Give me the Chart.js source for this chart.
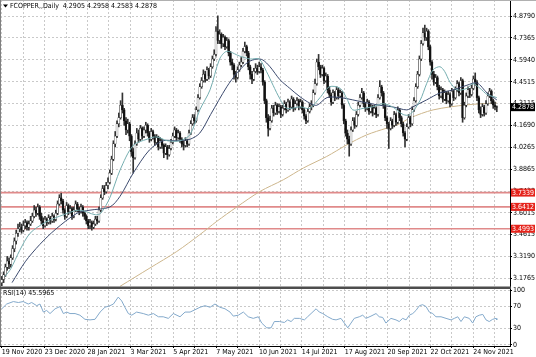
<!DOCTYPE html>
<html><head><meta charset="utf-8">
<script src="https://cdn.jsdelivr.net/npm/chart.js@4.4.1/dist/chart.umd.min.js"></script>
<style>html,body{margin:0;padding:0;background:#fff;overflow:hidden}canvas{display:block}</style>
</head><body>
<canvas id="c" width="536" height="357"></canvas>
<script>
const FONT = "'Liberation Sans Narrow','DejaVu Sans Condensed','Arial Narrow',sans-serif";
const symbolTitle = 'FCOPPER,,Daily';
const lastOHLC = [4.2905, 4.2958, 4.2583, 4.2878];
const rsiTitle = 'RSI(14) 45.5965';
const dateLabels = ['19 Nov 2020','23 Dec 2020','28 Jan 2021','3 Mar 2021','5 Apr 2021','7 May 2021','10 Jun 2021','14 Jul 2021','17 Aug 2021','20 Sep 2021','22 Oct 2021','24 Nov 2021'];
const priceTicks = [4.8790,4.7365,4.5940,4.4515,4.3115,4.1690,4.0265,3.8865,3.7439,3.6015,3.4615,3.3190,3.1765];
const rsiTicks = [0,30,70,100];
const levels = [3.7339,3.6412,3.4993];

const opens = [3.15,3.17,3.20,3.25,3.29,3.27,3.31,3.37,3.42,3.47,
3.50,3.51,3.49,3.52,3.54,3.51,3.53,3.55,3.58,3.62,
3.60,3.64,3.58,3.55,3.52,3.56,3.54,3.57,3.55,3.58,
3.56,3.60,3.66,3.70,3.68,3.62,3.58,3.65,3.61,3.63,
3.58,3.62,3.66,3.63,3.61,3.64,3.60,3.58,3.55,3.52,
3.54,3.51,3.53,3.56,3.55,3.62,3.70,3.76,3.74,3.78,
3.80,3.86,3.95,4.05,4.10,4.18,4.22,4.30,4.27,4.20,
4.14,4.18,4.10,4.00,3.96,4.05,4.12,4.08,4.15,4.10,
4.14,4.17,4.12,4.08,4.13,4.10,4.06,4.09,4.03,4.07,
4.04,3.99,4.03,3.98,4.02,4.06,4.10,4.14,4.09,4.12,
4.08,4.05,4.04,4.07,4.05,4.12,4.18,4.22,4.20,4.27,
4.35,4.42,4.46,4.50,4.47,4.53,4.49,4.55,4.60,4.63,
4.78,4.72,4.76,4.70,4.74,4.68,4.72,4.64,4.58,4.56,
4.50,4.48,4.53,4.56,4.58,4.65,4.68,4.64,4.55,4.50,
4.47,4.52,4.54,4.52,4.55,4.53,4.45,4.33,4.22,4.15,
4.20,4.28,4.25,4.30,4.26,4.29,4.24,4.28,4.31,4.27,
4.32,4.29,4.34,4.28,4.31,4.33,4.29,4.32,4.27,4.23,
4.20,4.26,4.29,4.30,4.38,4.44,4.58,4.55,4.50,4.54,
4.46,4.49,4.40,4.37,4.32,4.38,4.35,4.40,4.36,4.38,
4.30,4.20,4.12,4.08,4.05,4.14,4.20,4.17,4.24,4.30,
4.35,4.38,4.31,4.28,4.32,4.26,4.29,4.25,4.28,4.24,
4.35,4.42,4.38,4.30,4.22,4.18,4.15,4.20,4.17,4.24,
4.19,4.27,4.22,4.18,4.12,4.08,4.16,4.22,4.18,4.27,
4.33,4.42,4.50,4.60,4.70,4.77,4.74,4.78,4.68,4.58,
4.50,4.45,4.48,4.42,4.36,4.40,4.34,4.38,4.33,4.37,
4.31,4.39,4.35,4.40,4.44,4.38,4.46,4.22,4.30,4.36,
4.40,4.37,4.41,4.47,4.45,4.35,4.27,4.24,4.29,4.25,
4.31,4.36,4.39,4.33,4.30,4.2905];
const highs = [3.19,3.22,3.27,3.32,3.31,3.33,3.39,3.44,3.49,3.53,
3.54,3.53,3.55,3.56,3.55,3.55,3.58,3.60,3.65,3.64,
3.66,3.65,3.60,3.57,3.58,3.57,3.59,3.58,3.60,3.59,
3.62,3.68,3.72,3.73,3.69,3.63,3.67,3.66,3.65,3.64,
3.64,3.68,3.67,3.64,3.66,3.65,3.61,3.59,3.56,3.56,
3.55,3.55,3.58,3.58,3.64,3.72,3.78,3.78,3.80,3.83,
3.88,3.97,4.07,4.13,4.20,4.25,4.33,4.38,4.28,4.22,
4.21,4.19,4.11,4.02,4.07,4.15,4.14,4.17,4.16,4.16,
4.19,4.18,4.13,4.15,4.14,4.11,4.11,4.10,4.09,4.08,
4.05,4.05,4.04,4.04,4.08,4.12,4.16,4.15,4.14,4.13,
4.09,4.07,4.09,4.08,4.14,4.20,4.24,4.24,4.29,4.37,
4.44,4.48,4.53,4.52,4.55,4.54,4.57,4.62,4.66,4.81,
4.88,4.79,4.77,4.76,4.75,4.74,4.73,4.65,4.60,4.57,
4.52,4.55,4.58,4.61,4.67,4.71,4.69,4.65,4.56,4.52,
4.54,4.57,4.56,4.58,4.57,4.54,4.46,4.34,4.24,4.23,
4.30,4.30,4.32,4.31,4.31,4.30,4.30,4.33,4.32,4.34,
4.33,4.36,4.35,4.33,4.35,4.34,4.34,4.33,4.28,4.24,
4.28,4.31,4.33,4.40,4.47,4.60,4.63,4.56,4.56,4.55,
4.51,4.50,4.42,4.38,4.40,4.39,4.42,4.41,4.40,4.39,
4.31,4.21,4.14,4.10,4.16,4.22,4.22,4.26,4.32,4.37,
4.41,4.39,4.32,4.34,4.33,4.31,4.30,4.30,4.29,4.37,
4.46,4.43,4.39,4.31,4.23,4.19,4.22,4.21,4.26,4.25,
4.29,4.28,4.23,4.19,4.13,4.18,4.24,4.23,4.29,4.35,
4.44,4.52,4.62,4.72,4.80,4.82,4.80,4.79,4.69,4.59,
4.52,4.50,4.49,4.43,4.42,4.41,4.40,4.39,4.39,4.38,
4.41,4.40,4.42,4.46,4.45,4.48,4.47,4.32,4.38,4.42,
4.41,4.43,4.49,4.51,4.46,4.36,4.29,4.31,4.30,4.33,
4.38,4.41,4.40,4.34,4.32,4.2958];
const lows = [3.13,3.15,3.19,3.23,3.24,3.25,3.30,3.35,3.40,3.45,
3.48,3.47,3.48,3.50,3.49,3.49,3.52,3.54,3.57,3.58,
3.59,3.56,3.53,3.50,3.51,3.52,3.53,3.53,3.54,3.54,
3.55,3.59,3.65,3.66,3.60,3.56,3.57,3.59,3.60,3.56,
3.57,3.61,3.61,3.59,3.60,3.58,3.56,3.53,3.50,3.50,
3.49,3.50,3.52,3.53,3.54,3.61,3.69,3.72,3.73,3.76,
3.79,3.85,3.94,4.03,4.09,4.16,4.21,4.25,4.17,4.11,
4.12,4.07,3.97,3.86,3.95,4.04,4.06,4.07,4.08,4.09,
4.12,4.10,4.06,4.07,4.08,4.04,4.05,4.01,4.02,4.02,
3.96,3.98,3.95,3.97,4.01,4.05,4.09,4.07,4.08,4.06,
4.03,4.01,4.03,4.03,4.04,4.11,4.17,4.18,4.19,4.26,
4.34,4.41,4.45,4.45,4.46,4.47,4.48,4.54,4.59,4.62,
4.70,4.70,4.67,4.68,4.66,4.67,4.62,4.56,4.53,4.47,
4.45,4.47,4.52,4.55,4.57,4.64,4.62,4.53,4.47,4.44,
4.46,4.51,4.50,4.51,4.51,4.43,4.31,4.19,4.10,4.14,
4.19,4.23,4.24,4.24,4.25,4.22,4.23,4.27,4.25,4.26,
4.27,4.28,4.26,4.27,4.30,4.27,4.28,4.25,4.21,4.18,
4.19,4.25,4.27,4.29,4.37,4.43,4.53,4.48,4.49,4.44,
4.45,4.38,4.35,4.30,4.31,4.33,4.34,4.34,4.35,4.28,
4.18,4.10,4.05,3.97,4.04,4.13,4.15,4.16,4.23,4.29,
4.34,4.29,4.26,4.27,4.24,4.25,4.23,4.24,4.22,4.23,
4.34,4.36,4.28,4.20,4.15,4.02,4.14,4.15,4.16,4.17,
4.18,4.20,4.16,4.10,4.03,4.07,4.15,4.16,4.17,4.26,
4.32,4.41,4.49,4.59,4.69,4.72,4.72,4.66,4.56,4.47,
4.43,4.44,4.40,4.34,4.35,4.32,4.33,4.31,4.32,4.29,
4.30,4.33,4.34,4.39,4.36,4.37,4.19,4.21,4.29,4.35,
4.35,4.36,4.40,4.43,4.33,4.25,4.22,4.23,4.23,4.24,
4.30,4.35,4.31,4.28,4.27,4.2583];
const closes = [3.17,3.20,3.25,3.29,3.27,3.31,3.37,3.42,3.47,3.50,
3.51,3.49,3.52,3.54,3.51,3.53,3.55,3.58,3.62,3.60,
3.64,3.58,3.55,3.52,3.56,3.54,3.57,3.55,3.58,3.56,
3.60,3.66,3.70,3.68,3.62,3.58,3.65,3.61,3.63,3.58,
3.62,3.66,3.63,3.61,3.64,3.60,3.58,3.55,3.52,3.54,
3.51,3.53,3.56,3.55,3.62,3.70,3.76,3.74,3.78,3.80,
3.86,3.95,4.05,4.10,4.18,4.22,4.30,4.27,4.20,4.14,
4.18,4.10,4.00,3.96,4.05,4.12,4.08,4.15,4.10,4.14,
4.17,4.12,4.08,4.13,4.10,4.06,4.09,4.03,4.07,4.04,
3.99,4.03,3.98,4.02,4.06,4.10,4.14,4.09,4.12,4.08,
4.05,4.04,4.07,4.05,4.12,4.18,4.22,4.20,4.27,4.35,
4.42,4.46,4.50,4.47,4.53,4.49,4.55,4.60,4.63,4.78,
4.72,4.76,4.70,4.74,4.68,4.72,4.64,4.58,4.56,4.50,
4.48,4.53,4.56,4.58,4.65,4.68,4.64,4.55,4.50,4.47,
4.52,4.54,4.52,4.55,4.53,4.45,4.33,4.22,4.15,4.20,
4.28,4.25,4.30,4.26,4.29,4.24,4.28,4.31,4.27,4.32,
4.29,4.34,4.28,4.31,4.33,4.29,4.32,4.27,4.23,4.20,
4.26,4.29,4.30,4.38,4.44,4.58,4.55,4.50,4.54,4.46,
4.49,4.40,4.37,4.32,4.38,4.35,4.40,4.36,4.38,4.30,
4.20,4.12,4.08,4.05,4.14,4.20,4.17,4.24,4.30,4.35,
4.38,4.31,4.28,4.32,4.26,4.29,4.25,4.28,4.24,4.35,
4.42,4.38,4.30,4.22,4.18,4.15,4.20,4.17,4.24,4.19,
4.27,4.22,4.18,4.12,4.08,4.16,4.22,4.18,4.27,4.33,
4.42,4.50,4.60,4.70,4.77,4.74,4.78,4.68,4.58,4.50,
4.45,4.48,4.42,4.36,4.40,4.34,4.38,4.33,4.37,4.31,
4.39,4.35,4.40,4.44,4.38,4.46,4.22,4.30,4.36,4.40,
4.37,4.41,4.47,4.45,4.35,4.27,4.24,4.29,4.25,4.31,
4.36,4.39,4.33,4.30,4.29,4.2878];

const maFastX = [1.8,5,10,15.7,24,32,43,52,55,60,65.7,73,80.7,86,92,99,104.6,110,115.7,121,125,132,138,143,147,150.7,154.6,158.4,165.7,171,176.8,182,188,191.8,195,200.7,206,211.8,217,223,226.8,232.3,236,239.6,243.4,246,249,253,258.4,261.8,265.7,269.6,275];
const maFastY = [3.19,3.24,3.36,3.47,3.54,3.58,3.62,3.59,3.60,3.70,3.88,4.04,4.08,4.095,4.07,4.07,4.11,4.27,4.40,4.60,4.65,4.62,4.60,4.60,4.52,4.43,4.34,4.28,4.29,4.28,4.35,4.42,4.41,4.34,4.27,4.28,4.29,4.31,4.29,4.24,4.24,4.33,4.44,4.53,4.55,4.52,4.45,4.40,4.41,4.44,4.41,4.37,4.35];
const maSlowX = [5.7,13,21,29.6,41.8,49,60,65.7,73,82,89.6,97,104.6,110,116,125,130.7,136.8,141.8,145,149,154.6,160,165.7,171,175,180.7,188,195,202.9,210,217,225,228.4,236,243.4,250.7,258.4,264,269.6,275];
const maSlowY = [3.15,3.285,3.396,3.493,3.60,3.62,3.64,3.71,3.86,4.01,4.07,4.07,4.08,4.12,4.24,4.42,4.51,4.58,4.60,4.594,4.55,4.465,4.41,4.355,4.315,4.30,4.35,4.35,4.335,4.315,4.30,4.29,4.27,4.29,4.335,4.38,4.40,4.43,4.445,4.38,4.335];
const ma200X = [65.7,82.3,97.2,110,119.4,130.5,143.4,156.4,167.5,180.5,191.6,202.7,213.8,221,226.8,239.6,258.4,275];
const ma200Y = [3.126,3.245,3.352,3.461,3.547,3.640,3.741,3.817,3.893,3.968,4.043,4.108,4.152,4.18,4.218,4.27,4.303,4.315];

const rsiX = [0,2.7,6.4,9.2,11.9,14.7,16.6,19.4,21.2,23.1,24.9,26.8,29.6,32.3,34.2,36.1,37.9,40.7,43.4,46.2,49,51.8,54.6,57.3,60.1,62,64.7,66.6,68.4,70.3,72.2,74.9,78.6,81.4,84.2,87,89.7,92.5,95.3,99,101.8,104.6,107.3,110.1,112.9,115.7,118.4,121.2,124,126.8,128.6,131.4,134.2,136.9,139.7,142.5,144.4,147.2,149.6,151.4,154.2,157,158.8,160.7,162.5,165.3,168.1,169.9,171.8,174.6,176.4,178.3,181.1,183.8,185.7,188.4,190.3,192.2,194,195.8,198.6,200.5,202.3,205.1,207.9,209.7,211.6,213.4,216.2,219,220.8,222.7,224.6,226.4,228.3,230.1,232,233.8,235.7,237.5,239.4,241.2,244,246.8,249.6,251.4,253.3,255.1,257,259.7,261.6,263.4,265.3,267.2,269,270.8,272.7,274.6,275];
const rsiY = [66,74.7,79.2,77.5,79.2,74.7,77.5,71.7,74.7,60,63,57.3,66,70,57.3,60,57.3,57.3,54.3,46.8,45.7,46.8,60,68.8,71.7,74.7,87.4,80.4,68.8,57.3,54.3,60,57.3,54.3,57.3,51.4,51.4,48.5,57.3,51.4,60,60,64.2,68.8,71.7,68.8,74.7,68.8,66,60,52.6,54.3,60,51.4,48.5,51.4,39.9,31.2,31.2,42.7,42.7,41,45.7,42.7,48.5,48.5,45.7,51.4,57.3,66,60,57.3,51.4,46.8,45.7,48.5,39.9,31.2,39.9,48.5,51.4,54.3,48.5,52.6,57.3,51.4,50.2,39.9,48.5,45.7,42.7,48.5,45.7,54.3,57.3,63,71.7,73.5,70,60,57.3,51.4,51.4,48.5,45.7,48.5,51.4,42.7,51.4,48.5,39.9,51.4,54.3,55.7,45.7,42.7,46.8,48.5,45.6];

// layout constants
const X_MIN = -1, X_MAX = 282.33, GRID_START = 0.02, GRID_STEP = 11.906, GRID_COUNT = 24;
const Y_MIN = 3.1151, Y_MAX = 4.9828;
const RSI_MIN = -2, RSI_MAX = 104;
const GRID_COLOR = '#c9c9c9';

const pts = (xs, ys) => xs.map((x, i) => ({x, y: ys[i]}));
const wickData = highs.map((h, i) => ({x: i, y: [lows[i], h]}));
const bodyData = closes.map((c, i) => ({x: i, y: [Math.min(opens[i], c), Math.max(opens[i], c)]}));
const bodyColors = closes.map((c, i) => c >= opens[i] ? '#ffffff' : '#111111');

const levelSets = levels.map(v => ({
  type: 'line', data: [{x: X_MIN, y: v}, {x: X_MAX, y: v}], yAxisID: 'y',
  borderColor: '#e08a8a', borderWidth: 1.6, pointRadius: 0, order: 9
}));

const overlay = {
  id: 'overlay',
  afterDraw(chart) {
    const ctx = chart.ctx, ys = chart.scales.y, rs = chart.scales.rsi, ca = chart.chartArea;
    ctx.save();
    ctx.fillStyle = '#b0b0b0'; ctx.fillRect(0, 0, 536, 1);
    ctx.fillStyle = '#808080'; ctx.fillRect(0, 0, 1, ca.bottom);
    ctx.fillStyle = '#4d4d4d'; ctx.fillRect(0, rs.top - 1.5, ca.right + 1, 2.5);
    ctx.fillStyle = '#000';
    ctx.beginPath(); ctx.moveTo(3, 4.5); ctx.lineTo(8, 4.5); ctx.lineTo(5.5, 7.5); ctx.closePath(); ctx.fill();
    ctx.font = '7px ' + FONT; ctx.textBaseline = 'middle'; ctx.textAlign = 'left';
    ctx.fillText(symbolTitle + '  ' + lastOHLC.map(v => v.toFixed(4)).join(' '), 10, 6);
    ctx.fillText(rsiTitle, 3, rs.top + 5);
    ctx.textAlign = 'center';
    levels.forEach(v => {
      const py = ys.getPixelForValue(v);
      ctx.fillStyle = '#e5231b'; ctx.fillRect(511, py - 4, 24, 8);
      ctx.fillStyle = '#fff'; ctx.fillText(v.toFixed(4), 523, py + 0.5);
    });
    const lp = ys.getPixelForValue(lastOHLC[3]);
    ctx.fillStyle = '#000'; ctx.fillRect(511, lp - 4, 24, 8);
    ctx.fillStyle = '#fff'; ctx.fillText(lastOHLC[3].toFixed(4), 523, lp + 0.5);
    ctx.restore();
  }
};

const yFit = w => s => { s.width = w; s.paddingTop = 0; s.paddingBottom = 0; };

new Chart(document.getElementById('c'), {
  type: 'bar',
  data: {
    datasets: [
      ...levelSets,
      {type: 'line', data: pts(ma200X, ma200Y), yAxisID: 'y', borderColor: '#cdb68c', borderWidth: 1, pointRadius: 0, tension: 0.3, order: 8},
      {type: 'bar', data: wickData, yAxisID: 'y', backgroundColor: '#333333', barThickness: 1, order: 7},
      {type: 'bar', data: bodyData, yAxisID: 'y', backgroundColor: bodyColors, borderColor: '#222222', borderWidth: 0.5, borderSkipped: false, barThickness: 2, order: 6},
      {type: 'line', data: pts(maSlowX, maSlowY), yAxisID: 'y', borderColor: '#3c4a6e', borderWidth: 1, pointRadius: 0, tension: 0.3, order: 5},
      {type: 'line', data: pts(maFastX, maFastY), yAxisID: 'y', borderColor: '#74adaf', borderWidth: 1, pointRadius: 0, tension: 0.3, order: 4},
      {type: 'line', data: pts(rsiX, rsiY), yAxisID: 'rsi', borderColor: '#83a9cb', borderWidth: 1, pointRadius: 0, tension: 0, order: 3}
    ]
  },
  options: {
    responsive: false, animation: false, devicePixelRatio: 1,
    layout: {padding: 0},
    plugins: {legend: {display: false}, tooltip: {enabled: false}},
    datasets: {bar: {grouped: false}},
    scales: {
      x: {
        type: 'linear', min: X_MIN, max: X_MAX, offset: false, position: 'bottom',
        afterBuildTicks: s => { s.ticks = Array.from({length: GRID_COUNT}, (_, m) => ({value: GRID_START + m * GRID_STEP})); },
        afterFit: s => { s.height = 11; s.paddingLeft = 0; s.paddingRight = 0; },
        ticks: {autoSkip: false, maxRotation: 0, align: 'start', padding: 0, color: '#000', font: {family: FONT, size: 7},
          callback: (v, i) => i % 2 === 0 ? (dateLabels[i / 2] || '') : ''},
        grid: {color: GRID_COLOR, offset: false, tickLength: 2, tickColor: '#000', tickBorderDash: []},
        border: {display: true, color: '#000', width: 1, dash: [2, 2]}
      },
      y: {
        type: 'linear', position: 'right', stack: 'panes', stackWeight: 288, min: Y_MIN, max: Y_MAX,
        afterBuildTicks: s => { s.ticks = priceTicks.map(v => ({value: v})); },
        afterFit: yFit(26),
        ticks: {autoSkip: false, padding: 1, color: '#000', font: {family: FONT, size: 7}, callback: v => Number(v).toFixed(4)},
        grid: {color: GRID_COLOR, tickLength: 2, tickColor: '#000', tickBorderDash: []},
        border: {display: true, color: '#000', width: 1, dash: [2, 2]}
      },
      rsi: {
        type: 'linear', position: 'right', stack: 'panes', stackWeight: 58, min: RSI_MIN, max: RSI_MAX,
        afterBuildTicks: s => { s.ticks = rsiTicks.map(v => ({value: v})); },
        afterFit: yFit(26),
        ticks: {autoSkip: false, padding: 1, color: '#000', font: {family: FONT, size: 7}, callback: v => String(v)},
        grid: {color: GRID_COLOR, tickLength: 2, tickColor: '#000', tickBorderDash: []},
        border: {display: true, color: '#000', width: 1, dash: [2, 2]}
      }
    }
  },
  plugins: [overlay]
});
</script>
</body></html>
